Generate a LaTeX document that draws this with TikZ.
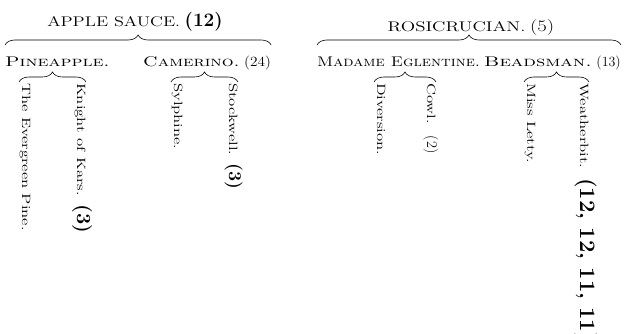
\documentclass[tikz,border=0pt]{standalone}
\usepackage{graphicx}
\usetikzlibrary{decorations.pathreplacing,calc}
\newcommand{\wide}[2][1.4]{\scalebox{#1}[1]{#2}}

\begin{document}
\begin{tikzpicture}[every node/.style={inner sep=0pt}]
\tikzset{sire/.style={font=\fontsize{14}{14}\selectfont,anchor=base}}
\tikzset{parent/.style={font=\fontsize{14}{14}\selectfont,anchor=base west}}
\tikzset{grand/.style={font=\fontsize{12}{12}\selectfont,rotate=-90,anchor=base west}}
\tikzset{bracket/.style={decorate,decoration={brace,amplitude=10pt},line width=0.6pt}}
\useasboundingbox (0,0) rectangle (624pt,-334pt);
% top: the two sires
\node[sire] (applesauce) at (135pt,-27pt) {\wide[1.3]{APPLE SAUCE.} {\fontsize{19}{19}\bfseries(12)}};
\node[sire] (rosicrucian) at (471pt,-32pt) {\wide[1.35]{ROSICRUCIAN.} \wide[1.3]{\fontsize{16}{16}\selectfont(5)}};
% second row
\node[parent] (pineapple) at (5pt,-67pt) {\wide{\textsc{Pineapple.}}};
\node[parent] (camerino) at (143pt,-67pt) {\wide[1.33]{\textsc{Camerino.}} \wide[1.1]{(24)}};
\node[parent] (madame) at (317pt,-67pt) {\wide[1.17]{\textsc{Madame Eglentine.}}};
\node[parent,anchor=base east] (beadsman) at (621pt,-67pt) {\wide[1.45]{\textsc{Beadsman.}} (13)};
\draw[bracket] ($(pineapple.base west)+(0,22pt)$) -- ($(camerino.base east)+(0,22pt)$);
\draw[bracket] ($(madame.base west)+(0,22pt)$) -- ($(beadsman.base east)+(0,22pt)$);
% third row, set sideways
\node[grand] (evergreen) at (22pt,-83pt) {\wide{The Evergreen Pine.}};
\node[grand] (knight) at (77pt,-83pt) {\wide{Knight of Kars.}\hspace{9pt}{\fontsize{20}{20}\bfseries(3)}};
\node[grand] (sylphine) at (174pt,-83pt) {\wide{Sylphine.}};
\node[grand] (stockwell) at (229pt,-83pt) {\wide{Stockwell.}\hspace{8pt}{\fontsize{18}{18}\bfseries(3)}};
\node[grand] (diversion) at (377pt,-83pt) {\wide{Diversion.}};
\node[grand] (cowl) at (427pt,-83pt) {\wide{Cowl.}\hspace{12pt}{\fontsize{15}{15}\selectfont(2)}};
\node[grand] (missletty) at (527pt,-83pt) {\wide{Miss Letty.}};
\node[grand] (weatherbit) at (580pt,-83pt) {\wide{Weatherbit.}\hspace{10pt}{\fontsize{22}{22}\bfseries(12, 12, 11, 11)}};
\draw[bracket] ($(evergreen.base west)+(-3pt,1pt)$) -- ($(knight.base west)+(9pt,1pt)$);
\draw[bracket] ($(sylphine.base west)+(-3pt,1pt)$) -- ($(stockwell.base west)+(9pt,1pt)$);
\draw[bracket] ($(diversion.base west)+(-3pt,1pt)$) -- ($(cowl.base west)+(9pt,1pt)$);
\draw[bracket] ($(missletty.base west)+(-3pt,1pt)$) -- ($(weatherbit.base west)+(9pt,1pt)$);
\end{tikzpicture}
\end{document}
